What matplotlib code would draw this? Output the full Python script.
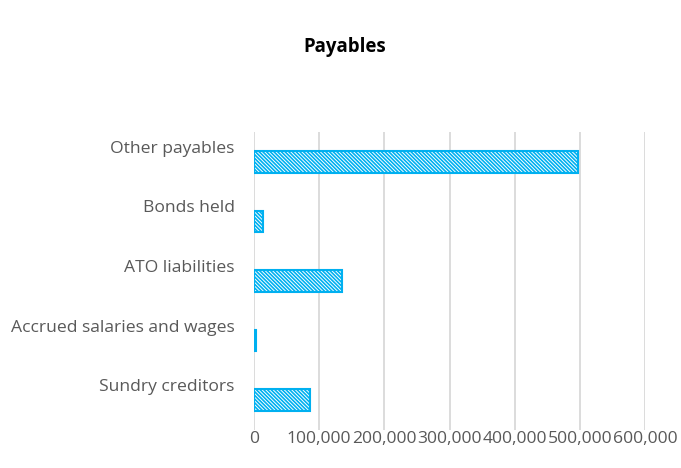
import matplotlib
matplotlib.use("Agg")
import matplotlib.pyplot as plt
import matplotlib.transforms as mtransforms
from matplotlib.ticker import FuncFormatter

categories = ["Sundry creditors", "Accrued salaries and wages", "ATO liabilities",
              "Bonds held", "Other payables"]
values = [86000, 3000, 135000, 14000, 497000]
xticks = [0, 100000, 200000, 300000, 400000, 500000, 600000]

plt.rcParams['font.family'] = ['Open Sans', 'DejaVu Sans']
plt.rcParams['hatch.linewidth'] = 1.2
plt.rcParams['hatch.color'] = '#00B0F0'

fig = plt.figure(figsize=(6.81, 4.68), dpi=100)
ax = fig.add_axes([254/681, 38/468, (645-254)/681, (430-132)/468])

ypos = list(range(len(categories)))
ax.barh(ypos, values, height=0.36, color='white', edgecolor='#00B0F0',
        linewidth=1.5, hatch='\\' * 9, zorder=3)

ax.set_ylim(-0.5, len(categories) - 0.5)
ax.set_xlim(0, 600000)
ax.set_xticks(xticks)
ax.xaxis.set_major_formatter(FuncFormatter(lambda v, p: f"{int(v):,}"))
ax.set_yticks(ypos)
ax.set_yticklabels(categories)

ax.grid(axis='x', color='#D9D9D9', linewidth=1.3, zorder=0)
for s in ax.spines.values():
    s.set_visible(False)
ax.tick_params(axis='both', length=0, labelsize=12.6, colors='#595959')
ax.tick_params(axis='y', pad=14)
ax.tick_params(axis='x', pad=1)

offset = mtransforms.ScaledTranslation(0, 15/100, fig.dpi_scale_trans)
for lbl in ax.get_yticklabels():
    lbl.set_transform(lbl.get_transform() + offset)

fig.text(345/681, 1 - 47/468, "Payables", ha='center', va='center',
         fontsize=13.4, fontweight='bold', color='black')

fig.savefig("out.png", dpi=100)
